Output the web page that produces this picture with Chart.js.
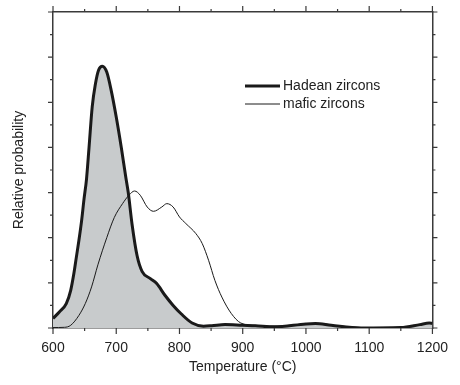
<!DOCTYPE html>
<html>
<head>
<meta charset="utf-8">
<script src="https://cdn.jsdelivr.net/npm/chart.js@4"></script>
<style>
  body { margin: 0; background: #fff; }
  canvas { display: block; }
</style>
</head>
<body>
<canvas id="probChart" width="460" height="385"></canvas>
<script>
// values (temperature in °C, relative probability)
const hadeanTemp = [600, 610, 621, 628, 633, 637, 641, 645, 649, 653, 657, 662, 667, 672, 678, 685, 692, 700, 708, 715, 719, 725, 733, 741, 754, 764, 777, 790, 803, 820, 838, 851, 872, 900, 920, 950, 1000, 1015, 1040, 1087, 1150, 1180, 1195, 1200];
const hadeanProb = [0.42, 0.71, 1.08, 1.67, 2.41, 3.15, 3.89, 4.7, 5.7, 6.6, 8.0, 9.8, 10.8, 11.42, 11.6, 11.34, 10.53, 9.35, 8.0, 6.7, 6.0, 4.6, 3.2, 2.5, 2.19, 1.97, 1.45, 1.0, 0.62, 0.22, 0.08, 0.1, 0.15, 0.12, 0.1, 0.05, 0.18, 0.2, 0.12, 0.0, 0.02, 0.15, 0.22, 0.2];

const maficTemp = [600, 618, 628, 641, 651, 661, 671, 685, 697, 710, 720, 729, 738, 749, 759, 772, 780, 790, 800, 810, 826, 836, 846, 856, 867, 882, 897, 918, 950, 1000, 1020, 1050, 1090, 1150, 1190, 1200];
const maficProb = [0.02, 0.03, 0.12, 0.56, 1.08, 1.82, 2.8, 4.0, 4.9, 5.51, 5.88, 6.07, 5.88, 5.36, 5.17, 5.36, 5.51, 5.36, 4.92, 4.63, 4.18, 3.74, 3.0, 2.11, 1.37, 0.64, 0.22, 0.12, 0.08, 0.18, 0.2, 0.1, 0.02, 0.03, 0.2, 0.22];

const seriesNames = ['Hadean zircons', 'mafic zircons'];
const xMin = 600, xMax = 1200, yMin = 0, yMax = 14;

const FONT = 'Liberation Sans, Arial, Helvetica, sans-serif';
const AXIS = '#3a3a3a';

const toPoints = (xs, ys) => xs.map((x, i) => ({ x: x, y: ys[i] }));

// tick marks on all four sides, drawn outward
const tickPlugin = {
  id: 'ticks',
  afterDraw(chart) {
    const ctx = chart.ctx;
    const a = chart.chartArea;
    const xs = chart.scales.x, ys = chart.scales.y;
    ctx.save();
    ctx.strokeStyle = AXIS;
    ctx.lineWidth = 1.2;
    ctx.beginPath();
    for (let v = xMin; v <= xMax; v += 50) {
      const len = v % 100 === 0 ? 6 : 3;
      const px = xs.getPixelForValue(v);
      ctx.moveTo(px, a.bottom); ctx.lineTo(px, a.bottom + len);
      ctx.moveTo(px, a.top); ctx.lineTo(px, a.top - len);
    }
    for (let v = yMin; v <= yMax; v += 1) {
      const len = v % 2 === 0 ? 5 : 3;
      const py = ys.getPixelForValue(v);
      ctx.moveTo(a.left, py); ctx.lineTo(a.left - len, py);
      ctx.moveTo(a.right, py); ctx.lineTo(a.right + len, py);
    }
    ctx.stroke();
    ctx.restore();
  }
};

// legend inside the plot, upper right
const legendPlugin = {
  id: 'insideLegend',
  afterDraw(chart) {
    const ctx = chart.ctx;
    const rows = [
      { text: seriesNames[0], width: 3, y: 86 },
      { text: seriesNames[1], width: 1, y: 104 }
    ];
    ctx.save();
    ctx.font = '14px ' + FONT;
    ctx.textBaseline = 'middle';
    ctx.fillStyle = '#222';
    rows.forEach(r => {
      ctx.strokeStyle = '#1a1a1a';
      ctx.lineWidth = r.width;
      ctx.beginPath();
      ctx.moveTo(245, r.y); ctx.lineTo(280, r.y);
      ctx.stroke();
      ctx.fillText(r.text, 283, r.y);
    });
    ctx.restore();
  }
};

new Chart(document.getElementById('probChart'), {
  type: 'line',
  data: {
    datasets: [
      {
        label: seriesNames[0],
        data: toPoints(hadeanTemp, hadeanProb),
        borderColor: '#1a1a1a',
        borderWidth: 3,
        backgroundColor: '#c8cbcc',
        fill: 'origin',
        pointRadius: 0,
        cubicInterpolationMode: 'monotone',
        order: 2
      },
      {
        label: seriesNames[1],
        data: toPoints(maficTemp, maficProb),
        borderColor: '#1a1a1a',
        borderWidth: 1,
        fill: false,
        pointRadius: 0,
        cubicInterpolationMode: 'monotone',
        order: 1
      }
    ]
  },
  options: {
    responsive: false,
    animation: false,
    layout: { padding: 0 },
    plugins: { legend: { display: false }, tooltip: { enabled: false } },
    scales: {
      x: {
        type: 'linear', position: 'bottom', min: xMin, max: xMax,
        grid: { display: false, drawTicks: false },
        border: { display: true, color: AXIS, width: 1.5 },
        ticks: { stepSize: 100, padding: 12, color: '#222', font: { family: FONT, size: 14 }, callback: v => String(v) },
        title: { display: true, text: 'Temperature (°C)', color: '#222', padding: { top: 0, bottom: 9 }, font: { family: FONT, size: 14 } },
        afterFit: s => { s.height = 57; }
      },
      x2: {
        type: 'linear', position: 'top', min: xMin, max: xMax,
        grid: { display: false, drawTicks: false },
        border: { display: true, color: AXIS, width: 1.5 },
        ticks: { display: false },
        afterFit: s => { s.height = 12; }
      },
      y: {
        type: 'linear', position: 'left', min: yMin, max: yMax,
        grid: { display: false, drawTicks: false },
        border: { display: true, color: AXIS, width: 1.5 },
        ticks: { display: false, stepSize: 1 },
        title: { display: true, text: 'Relative probability', color: '#222', padding: { top: 11, bottom: 0 }, font: { family: FONT, size: 14 } },
        afterFit: s => { s.width = 53; }
      },
      y2: {
        type: 'linear', position: 'right', min: yMin, max: yMax,
        grid: { display: false, drawTicks: false },
        border: { display: true, color: AXIS, width: 1.5 },
        ticks: { display: false },
        afterFit: s => { s.width = 17; }
      }
    }
  },
  plugins: [tickPlugin, legendPlugin]
});
</script>
</body>
</html>
